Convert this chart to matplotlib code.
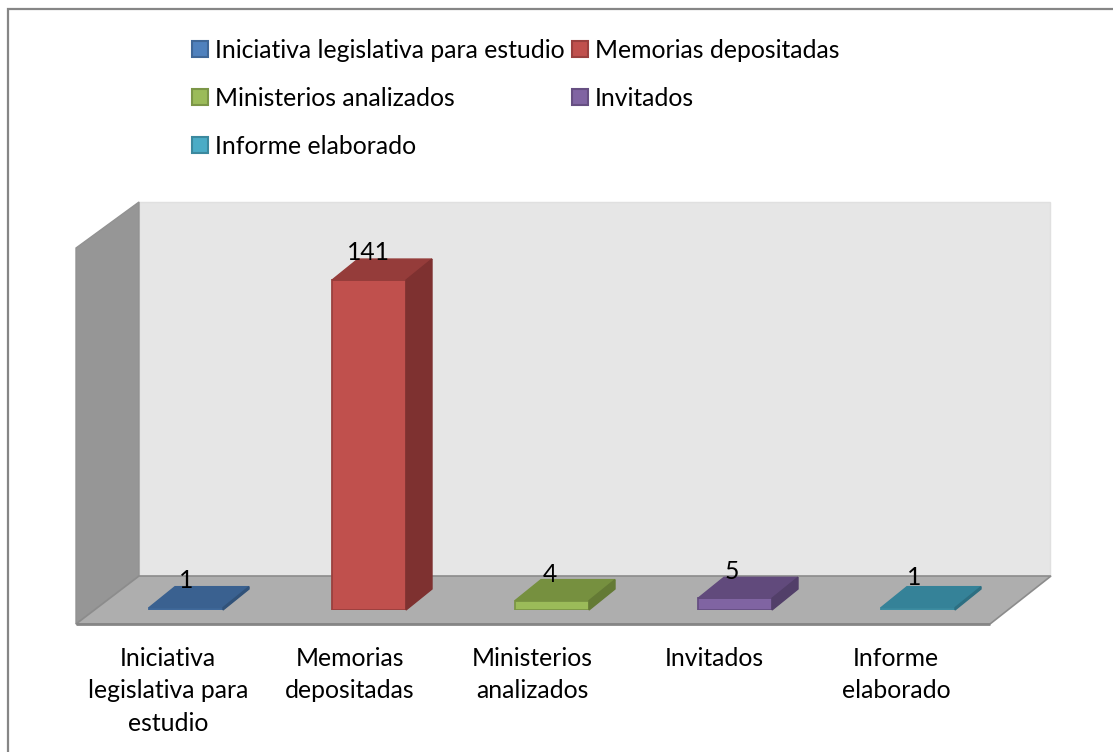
import matplotlib
matplotlib.use('Agg')
import matplotlib.pyplot as plt
from matplotlib.patches import Polygon, Rectangle

plt.rcParams['font.family'] = ['Lato', 'DejaVu Sans']

# Datos
categorias = ['Iniciativa legislativa para estudio', 'Memorias depositadas',
              'Ministerios analizados', 'Invitados', 'Informe elaborado']
etiquetas = ['Iniciativa\nlegislativa para\nestudio', 'Memorias\ndepositadas',
             'Ministerios\nanalizados', 'Invitados', 'Informe\nelaborado']
valores = [1, 141, 4, 5, 1]
col_frente = ['#4F81BD', '#C0504D', '#9BBB59', '#8064A2', '#4BACC6']
col_arriba = ['#3A6190', '#953C3A', '#76903F', '#614A7C', '#358298']
col_lado = ['#315279', '#7E3130', '#647A35', '#523F69', '#2D6F82']
col_borde = ['#3F6797', '#9A403E', '#7C9647', '#664F82', '#3C899E']

W, H = 1113, 752
fig = plt.figure(figsize=(W / 100, H / 100), dpi=100, facecolor='white')

# Fondo en pixeles: marco (solo arriba e izquierda), paredes y suelo
bg = fig.add_axes([0, 0, 1, 1])
bg.set_xlim(0, W)
bg.set_ylim(H, 0)
bg.axis('off')
bg.plot([8, 8, W], [H, 9, 9], color='#868686', lw=1.6, solid_joinstyle='miter')
bg.add_patch(Polygon([(139, 202), (1050, 202), (1050, 576), (139, 576)], fc='#E6E6E6', ec='#E0E0E0', lw=1))
bg.add_patch(Polygon([(76, 248), (139, 202), (139, 576), (76, 624)], fc='#969696', ec='#929292', lw=1))
bg.add_patch(Polygon([(76, 624), (139, 576), (1051, 576), (990, 624)], fc='#AEAEAE', ec='#8C8C8C', lw=1.2))
bg.plot([76, 990], [624, 624], color='#868686', lw=2, solid_capstyle='butt')

# Ejes de datos: 183 px por categoria, 2.34 px por unidad
ax = fig.add_axes([94.5 / W, (H - 610) / H, 915 / W, 351 / H])
ax.set_xlim(-0.5, 4.5)
ax.set_ylim(0, 150)
ax.axis('off')

ancho = 74 / 183
prof_x = 26 / 183
prof_y = 21 / 2.34

# Ajuste vertical de cada numero sobre su barra
subida = [16, 16, 15, 15, 19]

for i, v in enumerate(valores):
    x0 = i - ancho / 2
    x1 = i + ancho / 2
    ax.bar(i, v, ancho, color=col_frente[i], edgecolor=col_borde[i], linewidth=1.3, zorder=3)
    ax.add_patch(Polygon([(x0, v), (x1, v), (x1 + prof_x, v + prof_y), (x0 + prof_x, v + prof_y)],
                         fc=col_arriba[i], ec=col_arriba[i], lw=1, zorder=3, clip_on=False))
    ax.add_patch(Polygon([(x1, 0), (x1 + prof_x, prof_y), (x1 + prof_x, v + prof_y), (x1, v)],
                         fc=col_lado[i], ec=col_lado[i], lw=1, zorder=3, clip_on=False))
    ax.annotate(str(v), (i, v), xytext=(-i, subida[i]), textcoords='offset pixels',
                ha='center', va='bottom', fontsize=17.8, color='black', zorder=5, annotation_clip=False)

# Etiquetas de categoria
for i, t in enumerate(etiquetas):
    ax.annotate(t, (i, 0), xytext=(-18 - i, -37), textcoords='offset pixels', ha='center', va='top',
                fontsize=17.8, color='black', linespacing=1.5, annotation_clip=False)

# Leyenda manual
ley_x = [191, 571, 191, 571, 191]
ley_y = [49, 49, 97, 97, 145]
for i, c in enumerate(categorias):
    bg.add_patch(Rectangle((ley_x[i] + 1, ley_y[i] - 8), 16, 16, fc=col_frente[i], ec=col_borde[i], lw=1.5))
    bg.text(ley_x[i] + 24, ley_y[i] + 1, c, ha='left', va='center', fontsize=17.8, color='black')

fig.savefig('out.png', dpi=100)
